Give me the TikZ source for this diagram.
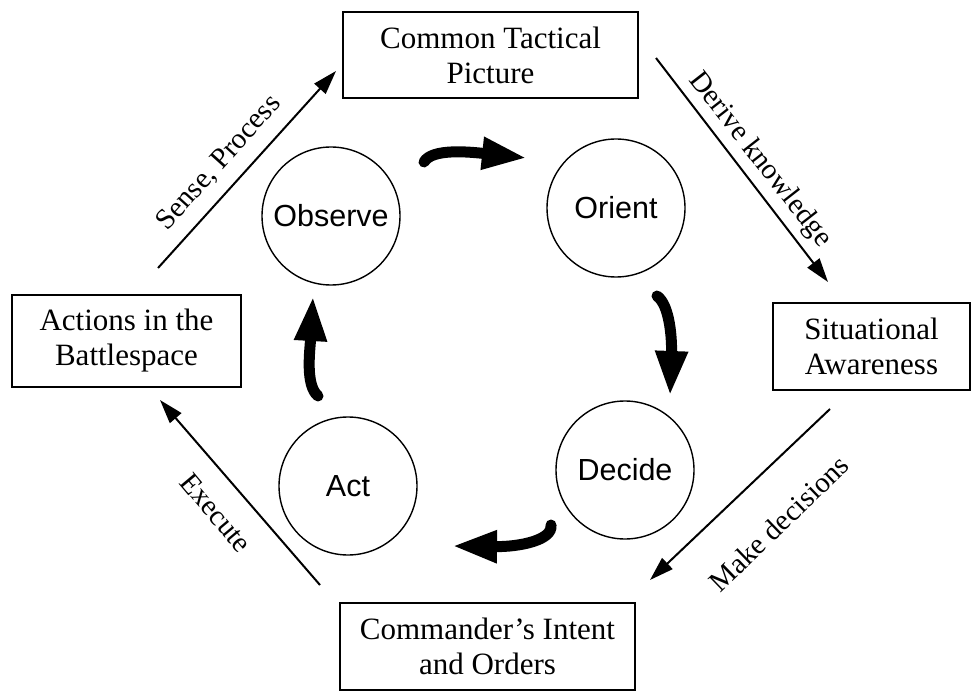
\documentclass[tikz,border=0pt]{standalone}
\usepackage{fontspec}
\setmainfont{Liberation Serif}
\newfontfamily\arialfont{Liberation Sans}
\usetikzlibrary{arrows.meta}
\begin{document}
\begin{tikzpicture}[x=1pt,y=-1pt,
  tbox/.style={draw, line width=1.4pt, align=center, inner sep=0pt,
    font=\fontsize{31}{35}\selectfont},
  stage/.style={circle, draw, line width=1.4pt, minimum size=138pt, inner sep=0pt,
    font=\arialfont\fontsize{30.5}{34}\selectfont},
  flow/.style={line width=2pt, -{Triangle[length=24pt,width=15pt]}},
  cyc/.style={line width=11pt, line cap=round, -{Triangle[length=45pt,width=30pt]}},
  lbl/.style={font=\fontsize{29}{32}\selectfont, inner sep=0pt}
]
\useasboundingbox (0,0) rectangle (974,692);

% boxes
\node[tbox, minimum width=295pt, minimum height=86pt] (ctp) at (490.5,55) {Common Tactical\\Picture};
\node[tbox, minimum width=229pt, minimum height=92pt] (act) at (126.5,341) {Actions in the\\Battlespace};
\node[tbox, minimum width=197pt, minimum height=87pt] (sa) at (871.5,346.5) {Situational\\Awareness};
\node[tbox, minimum width=295pt, minimum height=87pt] (cio) at (487.5,646.5) {Commander's Intent\\and Orders};

% circles
\node[stage] (obs) at (331,216) {Observe};
\node[stage] (ori) at (616,208) {Orient};
\node[stage] (dec) at (625,470) {Decide};
\node[stage] (acs) at (348,486) {Act};

% thin flow arrows
\coordinate (f1s) at (158,268); \coordinate (f1e) at (336,71);
\coordinate (f2s) at (656,58);  \coordinate (f2e) at (828,282);
\coordinate (f3s) at (830,409); \coordinate (f3e) at (650,580);
\coordinate (f4s) at (320,585); \coordinate (f4e) at (160,400);
\draw[flow] (f1s) -- (f1e);
\draw[flow] (f2s) -- (f2e);
\draw[flow] (f3s) -- (f3e);
\draw[flow] (f4s) -- (f4e);

\node[lbl, rotate=48]  (l1) at (219,163) {Sense, Process};
\node[lbl, rotate=-52] (l2) at (760,160) {Derive knowledge};
\node[lbl, rotate=44]  (l3) at (779,523) {Make decisions};
\node[lbl, rotate=-50] (l4) at (216,513) {Execute};

% thick cycle arrows
\coordinate (c1s) at (424,162); \coordinate (c1e) at (527,158);
\coordinate (c2s) at (657,296); \coordinate (c2e) at (670,396);
\coordinate (c3s) at (551,525); \coordinate (c3e) at (452,546);
\coordinate (c4s) at (318,396); \coordinate (c4e) at (313,296);
\draw[cyc] (c1s) .. controls (432,148) and (470,152) .. (c1e);
\draw[cyc] (c2s) .. controls (670,305) and (672,340) .. (c2e);
\draw[cyc] (c3s) .. controls (553,540) and (520,547) .. (c3e);
\draw[cyc] (c4s) .. controls (305,385) and (310,350) .. (c4e);
\end{tikzpicture}
\end{document}
